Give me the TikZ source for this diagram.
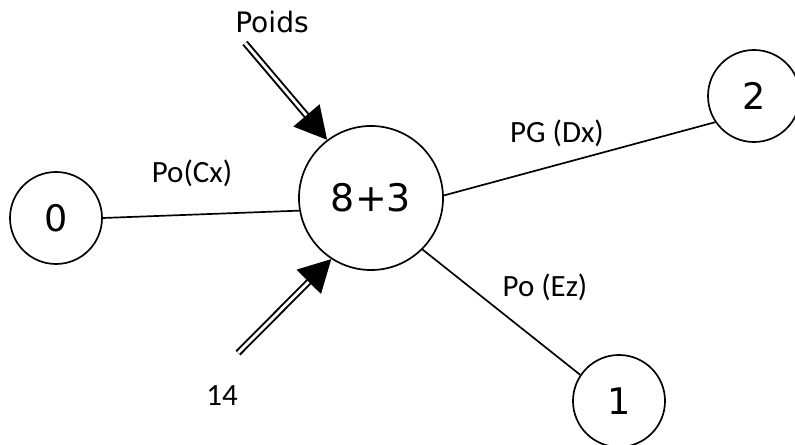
\documentclass[tikz,border=0pt]{standalone}
\usepackage{fontspec}
\setmainfont{Carlito}
\newfontfamily\roundfont{DejaVu Sans}
\usetikzlibrary{arrows.meta}

\begin{document}
\begin{tikzpicture}[x=0.025cm, y=-0.025cm, line width=1.2pt]
    \tikzset{
      sumnode/.style={draw=black, circle, minimum size=3.6cm, inner sep=0pt,
        font=\roundfont\fontsize{27}{30}\selectfont},
      endnode/.style={draw=black, circle, minimum size=2.3cm, inner sep=0pt,
        font=\roundfont\fontsize{26}{30}\selectfont},
      lbl/.style={anchor=base, inner sep=0pt, font=\fontsize{22}{26}\selectfont},
      load/.style={double, line width=1.4pt, double distance=2pt,
        -{Triangle[length=0.8cm, width=0.85cm]}}
    }
    \useasboundingbox (0,0) rectangle (795,445);

    \node[sumnode]  (sum) at (371,198) {8+3};
    \node[endnode]  (n0)  at (56,218)  {0};
    \node[endnode]  (n2)  at (754,96)  {2};
    \node[endnode]  (n1)  at (619,401) {1};

    \node[lbl] (lcx) at (192,183) {Po(Cx)};
    \node[lbl] (ldx) at (557,143) {PG (Dx)};
    \node[lbl] (lez) at (545,296) {Po (Ez)};
    \node[lbl, font=\roundfont\fontsize{20}{24}\selectfont] (poids) at (272,33) {Poids};
    \node[lbl] (l14) at (222,405) {14};

    \coordinate (pstart) at (245,43);
    \coordinate (qstart) at (238,353);

    \draw (n0.east) -- (sum.190);
    \draw (sum.2) -- (n2.214);
    \draw (sum.315) -- (n1.146);

    \draw[load] (pstart) -- (sum.127);
    \draw[load] (qstart) -- (sum.237);
\end{tikzpicture}
\end{document}
